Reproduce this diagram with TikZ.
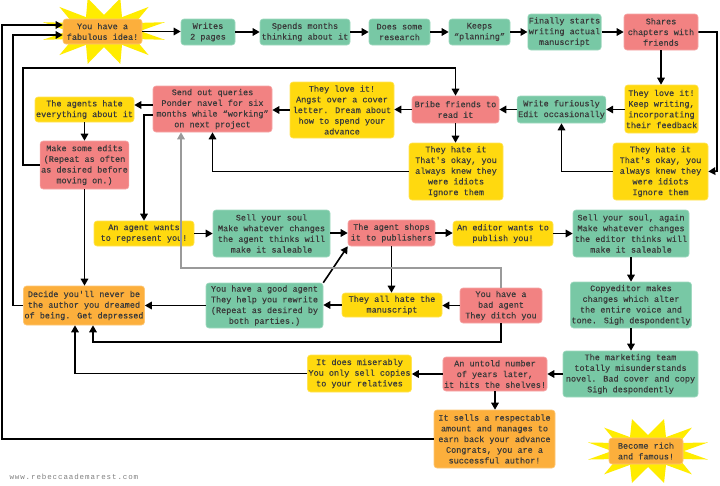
\documentclass[tikz,border=0pt]{standalone}
\usepackage{fontspec}
\usetikzlibrary{arrows.meta,calc}
\newfontfamily\boxfont[FakeBold=0.3]{Liberation Mono}
\newfontfamily\webfont[LetterSpace=12]{Liberation Mono}
\definecolor{cgreen}{HTML}{78C8A5}
\definecolor{cred}{HTML}{F28282}
\definecolor{cyellow}{HTML}{FFD90F}
\definecolor{corange}{HTML}{FCAF3C}
\definecolor{cstar}{HTML}{FFEC00}
\definecolor{ctext}{HTML}{3A3A3A}
\definecolor{cgrayline}{HTML}{9A9A9A}
\tikzset{
  box/.style={rounded corners=3pt, inner sep=1pt, align=center, text=ctext,
    font={\boxfont\fontsize{8.5}{10.7}\selectfont}, line width=0.6pt},
  arr/.style={line width=1.6pt, black, -{Triangle[length=7pt,width=7.5pt]}},
  grayarr/.style={line width=1.6pt, cgrayline, -{Triangle[length=7pt,width=7.5pt]}},
  starfill/.style={fill=cstar}
}
\newcommand\mybox[7]{\node[box, fill=#6, draw=#6!70!white, minimum width=#4pt, minimum height=#5pt] (#1) at (#2,#3) {#7};}
\begin{document}
\begin{tikzpicture}[x=1pt,y=-1pt]
\fill[white] (0,0) rectangle (720,485);
\useasboundingbox (0,0) rectangle (720,485);
% stars
\fill[starfill] plot[domain=0:23, samples=24] ({104+cos(\x*15)*(36+27*mod(\x,2))}, {31+sin(\x*15)*(16+18*mod(\x,2))}) -- cycle;
\fill[starfill] plot[domain=0:23, samples=24] ({648+cos(\x*15)*(36+26*mod(\x,2))}, {451+sin(\x*15)*(16+17*mod(\x,2))}) -- cycle;
% boxes
\mybox{idea}{102.5}{31.5}{79}{25}{corange}{You have a\\fabulous idea!}
\mybox{writes}{208}{32}{54}{26}{cgreen}{Writes\\2 pages}
\mybox{spends}{305}{32}{90}{26}{cgreen}{Spends months\\thinking about it}
\mybox{research}{399.5}{32}{61}{26}{cgreen}{Does some\\research}
\mybox{keeps}{479.5}{32}{61}{26}{cgreen}{Keeps\\“planning”}
\mybox{finally}{564.5}{32}{71}{36}{cgreen}{Finally starts\\writing actual\\manuscript}
\mybox{shares}{661}{32}{74}{36}{cred}{Shares\\chapters with\\friends}
\mybox{loveR}{661.5}{109}{73}{48}{cyellow}{They love it!\\Keep writing,\\incorporating\\their feedback}
\mybox{writef}{561.5}{109.5}{87}{27}{cgreen}{Write furiously\\Edit occasionally}
\mybox{bribe}{455.5}{109.5}{87}{27}{cred}{Bribe friends to\\read it}
\mybox{hateM}{456}{171.5}{94}{57}{cyellow}{They hate it\\That's okay, you\\always knew they\\were idiots\\Ignore them}
\mybox{hateR}{660.5}{171.5}{95}{57}{cyellow}{They hate it\\That's okay, you\\always knew they\\were idiots\\Ignore them}
\mybox{angst}{342}{110}{104}{56}{cyellow}{They love it!\\Angst over a cover\\letter. Dream about\\how to spend your\\advance}
\mybox{send}{212.5}{109}{119}{46}{cred}{Send out queries\\Ponder navel for six\\months while “working”\\on next project}
\mybox{agentshate}{84.5}{109.5}{99}{25}{cyellow}{The agents hate\\everything about it}
\mybox{edits}{84.5}{165}{87}{48}{cred}{Make some edits\\(Repeat as often\\as desired before\\moving on.)}
\mybox{decide}{84}{305.5}{118}{39}{corange}{Decide you'll never be\\the author you dreamed\\of being. Get depressed}
\mybox{agentw}{144}{233.5}{100}{25}{cyellow}{An agent wants\\to represent you!}
\mybox{soul1}{271.5}{233.5}{117}{47}{cgreen}{Sell your soul\\Make whatever changes\\the agent thinks will\\make it saleable}
\mybox{shops}{391.5}{233}{87}{26}{cred}{The agent shops\\it to publishers}
\mybox{editor}{503}{233.5}{100}{25}{cyellow}{An editor wants to\\publish you!}
\mybox{soul2}{631}{233.5}{116}{47}{cgreen}{Sell your soul, again\\Make whatever changes\\the editor thinks will\\make it saleable}
\mybox{copy}{631}{305}{116}{46}{cgreen}{Copyeditor makes\\changes which alter\\the entire voice and\\tone. Sigh despondently}
\mybox{market}{630.5}{374}{135}{46}{cgreen}{The marketing team\\totally misunderstands\\novel. Bad cover and copy\\Sigh despondently}
\mybox{untold}{495}{374}{98}{34}{cred}{An untold number\\of years later,\\it hits the shelves!}
\mybox{misery}{359.5}{373.5}{99}{37}{cyellow}{It does miserably\\You only sell copies\\to your relatives}
\mybox{sells}{494.5}{439}{121}{58}{corange}{It sells a respectable\\amount and manages to\\earn back your advance\\Congrats, you are a\\successful author!}
\mybox{rich}{646}{451}{74}{26}{corange}{Become rich\\and famous!}
\mybox{bad}{501}{305.5}{82}{35}{cred}{You have a\\bad agent\\They ditch you}
\mybox{allhate}{392}{305}{100}{24}{cyellow}{They all hate the\\manuscript}
\mybox{good}{264.5}{305.5}{117}{45}{cgreen}{You have a good agent\\They help you rewrite\\(Repeat as desired by\\both parties.)}
\node[text=gray, font={\webfont\fontsize{7.5}{9}\selectfont}, anchor=west] (web) at (6,477) {www.rebeccaademarest.com};
% helper coordinates
\coordinate (k1) at (23,68);
\coordinate (k2) at (13,35);
\coordinate (k3) at (2,25);
\coordinate (k4) at (93,342);
\coordinate (k5) at (181,268);
\coordinate (kr) at (717,171);
\coordinate (sw1) at ([yshift=4pt]send.west);
\coordinate (sw2) at ([yshift=-6pt]send.west);
% connectors
\draw[arr] (idea.east) -- (idea.east -| writes.west);
\draw[arr] (writes.east) -- (spends.west);
\draw[arr] (spends.east) -- (research.west);
\draw[arr] (research.east) -- (keeps.west);
\draw[arr] (keeps.east) -- (finally.west);
\draw[arr] (finally.east) -- (shares.west);
\draw[arr] (shares.east) -| (kr) -- (hateR.east);
\draw[arr] (shares.south) -- (shares.south |- loveR.north);
\draw[arr] (loveR.west |- writef.east) -- (writef.east);
\draw[arr] (hateR.west) -| (writef.south);
\draw[arr] (writef.west) -- (bribe.east);
\draw[arr] (bribe.south) -- (bribe.south |- hateM.north);
\draw[arr] (bribe.west) -- (bribe.west -| angst.east);
\draw[arr] (angst.west) -- (angst.west -| send.east);
\draw[arr] (hateM.west) -| (send.south);
\draw[arr] (sw1) -- (sw1 -| agentshate.east);
\draw[arr] (sw2) -| (agentw.north);
\draw[arr] (agentshate.south) -- (agentshate.south |- edits.north);
\draw[arr] (edits.west) -| (k1) -| (bribe.north);
\draw[arr] (edits.south) -- (edits.south |- decide.north);
\draw[arr] (decide.west) -| (k2) -- (k2 -| idea.west);
\draw[arr] (sells.west) -| (k3) -- (k3 -| idea.west);
\draw[arr] (agentw.east) -- (agentw.east -| soul1.west);
\draw[arr] (soul1.east |- shops.west) -- (shops.west);
\draw[arr] (shops.east) -- (shops.east -| editor.west);
\draw[arr] (editor.east) -- (editor.east -| soul2.west);
\draw[arr] (soul2.south) -- (copy.north);
\draw[arr] (copy.south) -- (copy.south |- market.north);
\draw[arr] (market.west) -- (untold.east);
\draw[arr] (untold.west) -- (untold.west -| misery.east);
\draw[arr] (misery.west) -| ([xshift=-9pt]decide.south);
\draw[arr] (bad.south) |- (k4) -- ([xshift=9pt]decide.south);
\draw[arr] (bad.west) -- (bad.west -| allhate.east);
\draw[arr] (shops.south) -- (shops.south |- allhate.north);
\draw[arr] (allhate.west) -- (allhate.west -| good.east);
\draw[arr] (good.north east) -- (shops.south west);
\draw[arr] (good.west) -- (good.west -| decide.east);
\draw[grayarr] (bad.north) |- (k5) -- (k5 |- send.south);
\draw[arr] (untold.south) -- (untold.south |- sells.north);
\end{tikzpicture}
\end{document}
